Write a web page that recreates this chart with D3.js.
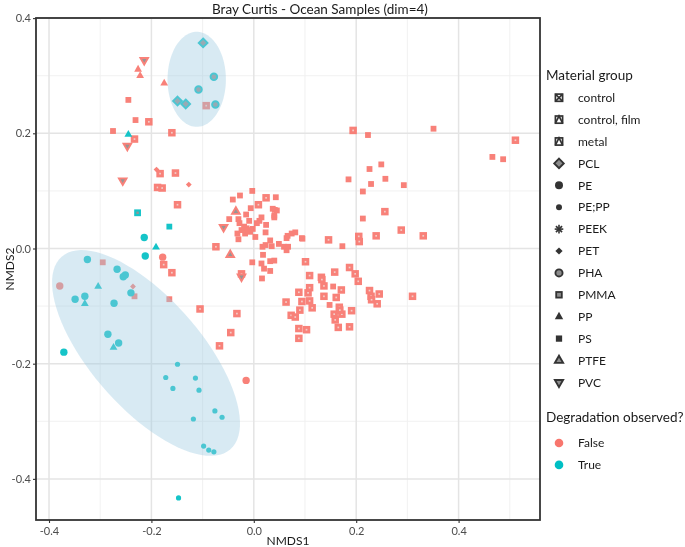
<!DOCTYPE html>
<html><head><meta charset="utf-8">
<script src="https://cdn.jsdelivr.net/npm/d3@7"></script>
<style>body{margin:0;background:#fff} svg{display:block} text{font-family:Lato,"Open Sans",sans-serif}</style>
</head><body><svg id="c" width="685" height="547"></svg>
<script>
// ---------- data ----------
const chartTitle = "Bray Curtis - Ocean Samples (dim=4)";
const xTicks = [-0.4, -0.2, 0.0, 0.2, 0.4];
const yTicks = [-0.4, -0.2, 0.0, 0.2, 0.4];
const xMinor = [-0.3, -0.1, 0.1, 0.3, 0.5];
const yMinor = [-0.3, -0.1, 0.1, 0.3];
const materialGroups = ["control","control, film","metal","PCL","PE","PE;PP","PEEK","PET","PHA","PMMA","PP","PS","PTFE","PVC"];
const degradationLevels = ["False","True"];
const degradationColors = ["#F8766D","#00BFC4"];

// degradation = True  [NMDS1, NMDS2]
const pclTrue  = [[-0.099,0.357],[-0.149,0.256],[-0.133,0.251]];
const phaTrue  = [[-0.078,0.298],[-0.108,0.276],[-0.075,0.250]];
const ppTrue   = [[-0.245,0.198],[-0.191,0.002],[-0.304,-0.066],[-0.330,-0.096],[-0.274,-0.172]];
const pmmaTrue = [[-0.227,0.062]];
const psTrue   = [[-0.165,0.038]];
const peTrue   = [[-0.214,0.019],[-0.212,-0.013],[-0.325,-0.019],[-0.267,-0.036],[-0.255,-0.049],[-0.251,-0.046],
                  [-0.240,-0.077],[-0.330,-0.083],[-0.349,-0.088],[-0.273,-0.095],[-0.285,-0.149],[-0.264,-0.164],[-0.371,-0.180]];
const peppTrue = [[-0.149,-0.201],[-0.172,-0.224],[-0.114,-0.225],[-0.158,-0.243],[-0.107,-0.246],[-0.076,-0.282],
                  [-0.062,-0.293],[-0.118,-0.296],[-0.098,-0.343],[-0.088,-0.350],[-0.078,-0.353],[-0.147,-0.433]];

// degradation = False
const pvcFalse  = [[-0.214,0.327],[-0.247,0.178],[-0.256,0.118],[-0.059,0.037],[-0.024,-0.049]];
const ppFalse   = [[-0.226,0.311],[-0.222,0.300],[-0.175,0.287]];
const ptfeFalse = [[-0.035,0.064],[-0.046,-0.011]];
const petFalse  = [[-0.190,0.137],[-0.127,0.111],[-0.236,-0.066]];
const peFalse   = [[-0.178,-0.015],[-0.379,-0.065],[-0.015,-0.229]];
const psFalse   = [[-0.245,0.258],[-0.275,0.204],[-0.231,0.223],[0.223,0.197],[0.351,0.208],[0.466,0.159],[0.487,0.155],
  [0.249,0.146],[0.226,0.138],[0.185,0.120],[0.257,0.121],[0.229,0.112],[0.293,0.110],[0.213,0.099],[0.213,0.052],
  [0.173,0.004],[0.155,-0.066],[0.148,-0.098],[-0.165,-0.088],[-0.233,-0.083],[-0.295,-0.024],
  [-0.003,0.100],[-0.041,0.085],[-0.027,0.092],[0.043,0.089],[-0.006,0.070],[0.041,0.067],[0.045,0.066],[0.037,0.069],
  [0.040,0.057],[0.040,0.054],[-0.015,0.059],[-0.048,0.051],[-0.030,0.051],[-0.028,0.044],[-0.009,0.048],[0.015,0.054],
  [0.011,0.048],[0.006,0.044],[0.024,0.041],[-0.019,0.038],[-0.014,0.035],[-0.024,0.032],[-0.007,0.029],[-0.017,0.026],
  [-0.032,0.026],[-0.011,0.032],[-0.002,0.034],[0.003,0.020],[0.023,0.028],[-0.030,0.016],[0.032,0.014],[0.023,0.006],
  [0.035,0.004],[0.017,0.003],[0.049,0.008],[0.059,0.003],[0.064,-0.003],[0.067,0.003],[0.066,0.022],[0.074,0.026],
  [0.081,0.028],[0.064,0.018],[0.094,0.018],[0.018,-0.011],[-0.003,-0.024],[0.015,-0.026],[0.032,-0.022],[0.040,-0.021],
  [0.020,-0.035],[0.032,-0.039],[0.016,-0.052],[0.095,0.017]];
const pmmaFalse = [[-0.093,0.248],[-0.233,0.190],[-0.205,0.220],[-0.160,0.201],[-0.183,0.130],[-0.153,0.131],[-0.188,0.106],
  [-0.179,0.105],[-0.149,0.076],[-0.176,-0.028],[-0.160,-0.042],[-0.105,-0.105],[-0.033,-0.113],[-0.045,-0.146],
  [-0.067,-0.169],[-0.074,0.003],[-0.024,-0.044],[0.063,-0.093],[0.024,0.088],[0.009,0.076],[0.194,0.205],[0.511,0.188],
  [0.256,0.064],[0.288,0.032],[0.239,0.022],[0.331,0.022],[0.205,0.021],[0.206,0.012],[0.146,0.015],[0.109,-0.068],
  [0.088,-0.076],[0.109,-0.091],[0.114,-0.103],[0.090,-0.107],[0.073,-0.116],[0.081,-0.119],[0.088,-0.139],[0.103,-0.141],
  [0.088,-0.156],[0.101,-0.023],[0.109,-0.047],[0.132,-0.050],[0.133,-0.054],[0.158,-0.041],[0.187,-0.033],[0.198,-0.044],
  [0.204,-0.057],[0.226,-0.073],[0.229,-0.083],[0.230,-0.089],[0.245,-0.079],[0.241,-0.096],[0.310,-0.083],[0.157,-0.114],
  [0.159,-0.124],[0.172,-0.114],[0.165,-0.137],[0.187,-0.136],[0.191,-0.108],[0.167,-0.102],[0.168,-0.107],[0.106,-0.077],
  [0.161,-0.085],[0.137,-0.083],[0.171,-0.072],[0.137,-0.065],[0.094,-0.092]];

// 95% ellipses for the degraded groups: centre and two semi-axis vectors (data units)
const ellipseCentres = [[-0.1115, 0.2937], [-0.2105, -0.1814]];
const ellipseAxisA   = [[0.057, 0.0], [0.1648, -0.1672]];
const ellipseAxisB   = [[0.0, 0.0825], [-0.0808, -0.0629]];

const series = [
  {m:"PS", d:"False", pts:psFalse}, {m:"PMMA", d:"False", pts:pmmaFalse}, {m:"PVC", d:"False", pts:pvcFalse},
  {m:"PP", d:"False", pts:ppFalse}, {m:"PTFE", d:"False", pts:ptfeFalse}, {m:"PET", d:"False", pts:petFalse},
  {m:"PE", d:"False", pts:peFalse},
  {m:"PCL", d:"True", pts:pclTrue}, {m:"PHA", d:"True", pts:phaTrue}, {m:"PP", d:"True", pts:ppTrue},
  {m:"PMMA", d:"True", pts:pmmaTrue}, {m:"PS", d:"True", pts:psTrue}, {m:"PE", d:"True", pts:peTrue},
  {m:"PE;PP", d:"True", pts:peppTrue}
];

// ---------- layout ----------
const svg = d3.select("#c");
const L = 36, R = 540, T = 18, B = 520;
const x = d3.scaleLinear().domain([-0.4254, 0.5590]).range([L, R]);
const y = d3.scaleLinear().domain([-0.4714, 0.4002]).range([B, T]);
const colour = d3.scaleOrdinal().domain(degradationLevels).range(degradationColors);
const GREY = "#8c8c8c";

// grid
const grid = svg.append("g");
grid.selectAll(".xm").data(xMinor).join("line").attr("x1",d=>x(d)).attr("x2",d=>x(d)).attr("y1",T).attr("y2",B)
  .attr("stroke","#efefef").attr("stroke-width",0.9);
grid.selectAll(".ym").data(yMinor).join("line").attr("y1",d=>y(d)).attr("y2",d=>y(d)).attr("x1",L).attr("x2",R)
  .attr("stroke","#efefef").attr("stroke-width",0.9);
grid.selectAll(".xM").data(xTicks).join("line").attr("x1",d=>x(d)).attr("x2",d=>x(d)).attr("y1",T).attr("y2",B)
  .attr("stroke","#e4e4e4").attr("stroke-width",1.5);
grid.selectAll(".yM").data(yTicks).join("line").attr("y1",d=>y(d)).attr("y2",d=>y(d)).attr("x1",L).attr("x2",R)
  .attr("stroke","#e4e4e4").attr("stroke-width",1.5);

// shape drawing
function tri(s, down){ const h=s*0.866; const a=down?1:-1;
  return `M0,${a*h*2/3}L${s/2},${-a*h/3}L${-s/2},${-a*h/3}Z`; }
function diamond(r){ return `M0,${-r}L${r},0L0,${r}L${-r},0Z`; }
function drawShape(g, m, c, legend){
  const k = legend ? 1.08 : 1;
  switch(m){
    case "PS": g.append("rect").attr("x",-2.9*k).attr("y",-2.9*k).attr("width",5.8*k).attr("height",5.8*k).attr("fill",c); break;
    case "PMMA":
      if (legend) g.append("rect").attr("x",-2.8).attr("y",-2.8).attr("width",5.6).attr("height",5.6)
        .attr("fill",GREY).attr("stroke",c).attr("stroke-width",1.8);
      else g.append("rect").attr("x",-2.3).attr("y",-2.3).attr("width",4.6).attr("height",4.6)
        .attr("fill", c === degradationColors[1] ? GREY : "#f2c9c5").attr("stroke",c).attr("stroke-width", c === degradationColors[1] ? 2.2 : 2.9);
      break;
    case "PE": g.append("circle").attr("r",3.7*k).attr("fill",c); break;
    case "PE;PP": g.append("circle").attr("r",legend?3:2.6).attr("fill",c); break;
    case "PP": g.append("path").attr("d",tri(7.8*k,false)).attr("fill",c); break;
    case "PTFE": g.append("path").attr("d",tri(7.6*k,false)).attr("fill",GREY).attr("stroke",c).attr("stroke-width",1.9); break;
    case "PVC": g.append("path").attr("d",tri(7.6*k,true)).attr("fill",GREY).attr("stroke",c).attr("stroke-width",1.9); break;
    case "PCL": g.append("path").attr("d",diamond(4.4*k)).attr("fill",GREY).attr("stroke",c).attr("stroke-width",1.9); break;
    case "PHA": g.append("circle").attr("r",3.3*k).attr("fill",GREY).attr("stroke",c).attr("stroke-width",1.9); break;
    case "PET": g.append("path").attr("d",diamond(legend?3.6:2.9)).attr("fill",c); break;
    case "PEEK": [0,45,90,135].forEach(a=>{ g.append("line").attr("x1",-4.3).attr("x2",4.3).attr("y1",0).attr("y2",0)
        .attr("transform",`rotate(${a})`).attr("stroke",c).attr("stroke-width",1.6); }); break;
    case "control":
      g.append("rect").attr("x",-3.6).attr("y",-3.6).attr("width",7.2).attr("height",7.2).attr("fill","none").attr("stroke",c).attr("stroke-width",1.7);
      g.append("path").attr("d","M-3.6,-3.6L3.6,3.6M3.6,-3.6L-3.6,3.6").attr("stroke",c).attr("stroke-width",1.7); break;
    default: // control, film / metal : square with triangle
      g.append("rect").attr("x",-3.6).attr("y",-3.6).attr("width",7.2).attr("height",7.2).attr("fill","none").attr("stroke",c).attr("stroke-width",1.7);
      g.append("path").attr("d","M-3.6,3.6L0,-3.6L3.6,3.6").attr("fill","none").attr("stroke",c).attr("stroke-width",1.7);
  }
}

// points
const pg = svg.append("g").attr("opacity",0.92);
series.forEach(s=>{
  s.pts.forEach(p=>{
    const g = pg.append("g").attr("transform",`translate(${x(p[0])},${y(p[1])})`);
    drawShape(g, s.m, colour(s.d), false);
  });
});

// ellipses (drawn on top, translucent)
const line = d3.line().curve(d3.curveLinearClosed);
ellipseCentres.forEach((c,i)=>{
  const A = ellipseAxisA[i], Bv = ellipseAxisB[i];
  const pts = d3.range(0, 360, 4).map(t=>{
    const r = t*Math.PI/180;
    return [x(c[0] + A[0]*Math.cos(r) + Bv[0]*Math.sin(r)), y(c[1] + A[1]*Math.cos(r) + Bv[1]*Math.sin(r))];
  });
  svg.append("path").attr("d", line(pts)).attr("fill","#9ecae1").attr("fill-opacity",0.4).attr("stroke","none");
});

// panel border
svg.append("rect").attr("x",L).attr("y",T).attr("width",R-L).attr("height",B-T)
  .attr("fill","none").attr("stroke","#333").attr("stroke-width",1.8);

// axes
const fmt = d=>d.toFixed(1);
const xa = svg.append("g").attr("transform",`translate(0,${B})`)
  .call(d3.axisBottom(x).tickValues(xTicks).tickFormat(fmt).tickSize(3).tickPadding(4));
const ya = svg.append("g").attr("transform",`translate(${L},0)`)
  .call(d3.axisLeft(y).tickValues(yTicks).tickFormat(fmt).tickSize(3).tickPadding(2));
[xa,ya].forEach(a=>{
  a.select(".domain").remove();
  a.selectAll(".tick line").attr("stroke","#333").attr("stroke-width",1.1);
  a.selectAll(".tick text").attr("fill","#4d4d4d").style("font-size","11px").style("font-family","Lato, 'Open Sans', sans-serif");
});

svg.append("text").attr("x",(L+R)/2).attr("y",545).attr("text-anchor","middle").style("font-size","12px").attr("fill","#1a1a1a").text("NMDS1");
svg.append("text").attr("transform",`translate(14,${(T+B)/2}) rotate(-90)`).attr("text-anchor","middle").style("font-size","12px").attr("fill","#1a1a1a").text("NMDS2");
svg.append("text").attr("x",320).attr("y",14).attr("text-anchor","middle").style("font-size","13.5px").attr("fill","#1a1a1a").text(chartTitle);

// legends
const lg = svg.append("g");
lg.append("text").attr("x",546).attr("y",80).style("font-size","13.5px").attr("fill","#1a1a1a").text("Material group");
materialGroups.forEach((m,i)=>{
  const cy = 97.7 + i*21.9;
  const g = lg.append("g").attr("transform",`translate(559,${cy})`);
  drawShape(g, m, "#333", true);
  lg.append("text").attr("x",578).attr("y",cy+4.2).style("font-size","12px").attr("fill","#1a1a1a").text(m);
});
lg.append("text").attr("x",546).attr("y",422).style("font-size","13.5px").attr("fill","#1a1a1a").text("Degradation observed?");
degradationLevels.forEach((d,i)=>{
  const cy = 443 + i*21.9;
  lg.append("circle").attr("cx",559).attr("cy",cy).attr("r",4.3).attr("fill",colour(d));
  lg.append("text").attr("x",578).attr("y",cy+4.2).style("font-size","12px").attr("fill","#1a1a1a").text(d);
});
</script></body></html>
